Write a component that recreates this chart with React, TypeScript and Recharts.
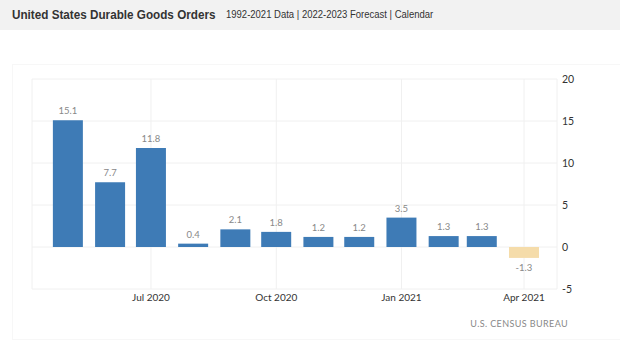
import { Bar, BarChart, CartesianGrid, Cell, LabelList, XAxis, YAxis } from "recharts";

const months = [
  "2020-05", "2020-06", "2020-07", "2020-08", "2020-09", "2020-10",
  "2020-11", "2020-12", "2021-01", "2021-02", "2021-03", "2021-04",
];
const orders = [15.1, 7.7, 11.8, 0.4, 2.1, 1.8, 1.2, 1.2, 3.5, 1.3, 1.3, -1.3];
const isForecast = [false, false, false, false, false, false, false, false, false, false, false, true];
const xTickMonths = ["2020-07", "2020-10", "2021-01", "2021-04"];
const yTicks = [-5, 0, 5, 10, 15, 20];
const monthNames = ["Jan", "Feb", "Mar", "Apr", "May", "Jun", "Jul", "Aug", "Sep", "Oct", "Nov", "Dec"];

const toTime = (m: string) => {
  const [y, mo] = m.split("-").map(Number);
  return Date.UTC(y, mo - 1, 1);
};

const DAY = 86400000;

const data = months.map((m, i) => ({
  t: toTime(m),
  value: orders[i],
  forecast: isForecast[i],
}));

const xTicks = xTickMonths.map(toTime);
const xDomain = [data[0].t - 26.4 * DAY, data[data.length - 1].t + 24.2 * DAY];

const formatMonth = (t: number) => {
  const d = new Date(t);
  return `${monthNames[d.getUTCMonth()]} ${d.getUTCFullYear()}`;
};

const chartFont = "Lato, 'Liberation Sans', sans-serif";

export default function App() {
  return (
    <div
      style={{
        position: "absolute",
        left: 0,
        top: 0,
        width: 620,
        height: 354,
        background: "#fff",
        overflow: "hidden",
        fontFamily: "'Liberation Sans', Arial, sans-serif",
      }}
    >
      <div
        style={{
          position: "absolute",
          left: 0,
          top: 0,
          width: 620,
          height: 30,
          background: "#f2f2f2",
        }}
      >
        <span
          style={{
            position: "absolute",
            left: 12,
            top: 7,
            fontSize: 13,
            fontWeight: "bold",
            color: "#333",
            whiteSpace: "nowrap",
            transform: "scaleX(0.9)",
            transformOrigin: "left",
          }}
        >
          United States Durable Goods Orders
        </span>
        <span
          style={{
            position: "absolute",
            left: 226,
            top: 9,
            fontSize: 10,
            color: "#333",
            whiteSpace: "nowrap",
            transform: "scaleX(0.95)",
            transformOrigin: "left",
          }}
        >
          1992-2021 Data | 2022-2023 Forecast | Calendar
        </span>
      </div>
      {/* faint card outline around the chart */}
      <div
        style={{
          position: "absolute",
          left: 12,
          top: 64,
          width: 620,
          height: 276,
          border: "1px solid #f7f7f7",
          boxSizing: "border-box",
        }}
      />
      <div style={{ position: "absolute", left: 0, top: 0 }}>
        <BarChart
          width={620}
          height={354}
          data={data}
          margin={{ top: 79, right: 23, left: 32, bottom: 35 }}
        >
          <CartesianGrid stroke="#f0f0f0" />
          <XAxis
            dataKey="t"
            type="number"
            domain={xDomain}
            ticks={xTicks}
            tickFormatter={formatMonth}
            axisLine={false}
            tickLine={false}
            tickSize={0}
            tickMargin={5}
            height={30}
            tick={{ fontSize: 10, fill: "#333", fontFamily: chartFont }}
            allowDataOverflow
          />
          <YAxis
            orientation="right"
            domain={[-5, 20]}
            ticks={yTicks}
            axisLine={false}
            tickLine={false}
            tickSize={0}
            tickMargin={5}
            width={40}
            tick={{ fontSize: 10.5, fill: "#333", fontFamily: chartFont, textAnchor: "start" }}
          />
          <Bar dataKey="value" barSize={30} isAnimationActive={false}>
            {data.map((d) => (
              <Cell key={d.t} fill={d.forecast ? "#f5dcaa" : "#3e7bb6"} />
            ))}
            <LabelList
              dataKey="value"
              position="top"
              offset={6}
              formatter={(v: number) => v.toFixed(1)}
              style={{ fontSize: 9.5, fill: "#888", fontFamily: chartFont }}
            />
          </Bar>
        </BarChart>
      </div>
      <div
        style={{
          position: "absolute",
          right: 52,
          top: 318,
          fontSize: 9,
          color: "#888",
          letterSpacing: 0.4,
          fontFamily: chartFont,
          whiteSpace: "nowrap",
        }}
      >
        U.S. CENSUS BUREAU
      </div>
    </div>
  );
}
